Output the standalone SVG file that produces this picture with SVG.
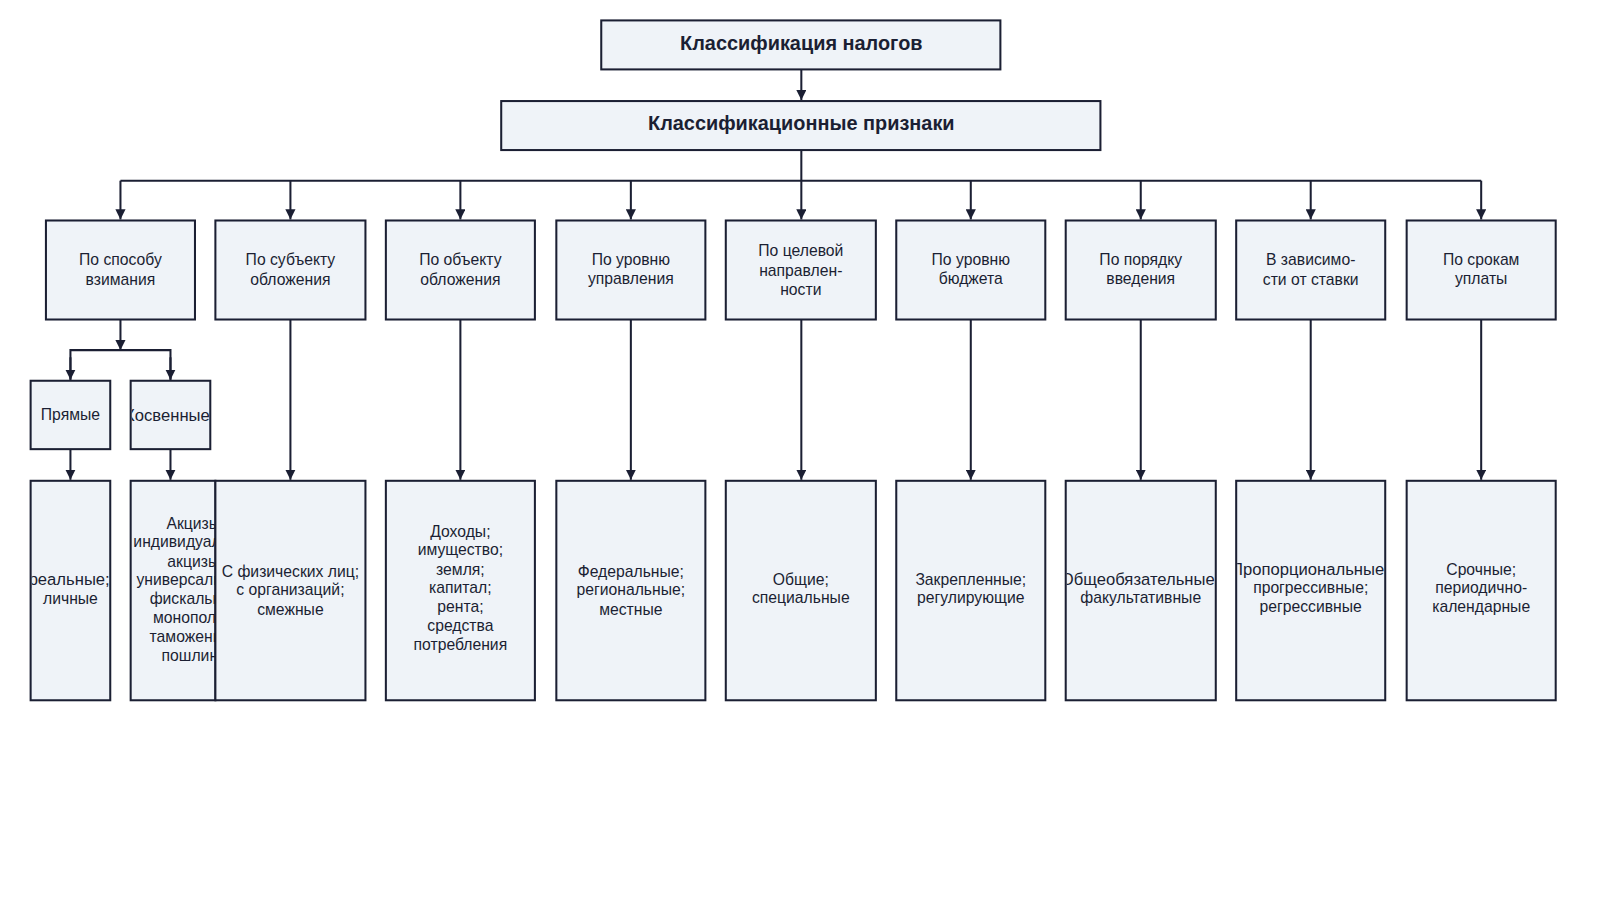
<svg xmlns="http://www.w3.org/2000/svg" width="1600" height="900" viewBox="0 0 1600 900">
<style>
.box{fill:#eff3f8;stroke:#1b1f33;stroke-width:2}
.t{font-family:"Liberation Sans",Arial,sans-serif;font-size:15.4px;fill:#1b1f33;text-anchor:middle}
.e{text-anchor:end;font-size:16.3px}
.b{font-family:"Liberation Sans",Arial,sans-serif;font-size:19.5px;font-weight:bold;fill:#1b1f33;text-anchor:middle}
.ln{fill:none;stroke:#1b1f33;stroke-width:2}
</style>
<defs>
<marker id="ah" viewBox="0 0 10 10" refX="10" refY="5" markerWidth="10" markerHeight="10" markerUnits="userSpaceOnUse" orient="auto">
<path d="M0,0 L10,5 L0,10 z" fill="#1b1f33"/>
</marker>
<clipPath id="cPr"><rect x="31" y="472" width="76" height="213"/></clipPath>
<clipPath id="cKs"><rect x="129" y="374" width="76" height="65"/></clipPath>
<clipPath id="cKb"><rect x="129" y="472" width="82" height="213"/></clipPath>
<clipPath id="cOb"><rect x="1045" y="472" width="145" height="213"/></clipPath>
<clipPath id="cPp"><rect x="1212" y="472" width="144" height="213"/></clipPath>
</defs>
<rect width="1600" height="900" fill="#ffffff"/>
<g transform="scale(1.0208)">

<g id="connectors">
<path class="ln" d="M785,68 V98" marker-end="url(#ah)"/>
<path class="ln" d="M785,147 V177"/>
<path class="ln" d="M118,177 H1451"/>
<path class="ln" d="M118,177 V215" marker-end="url(#ah)"/>
<path class="ln" d="M284.5,177 V215" marker-end="url(#ah)"/>
<path class="ln" d="M451,177 V215" marker-end="url(#ah)"/>
<path class="ln" d="M618,177 V215" marker-end="url(#ah)"/>
<path class="ln" d="M785,177 V215" marker-end="url(#ah)"/>
<path class="ln" d="M951,177 V215" marker-end="url(#ah)"/>
<path class="ln" d="M1117.5,177 V215" marker-end="url(#ah)"/>
<path class="ln" d="M1284,177 V215" marker-end="url(#ah)"/>
<path class="ln" d="M1451,177 V215" marker-end="url(#ah)"/>
<path class="ln" d="M118,313 V343" marker-end="url(#ah)"/>
<path class="ln" d="M69,372 V343 H167 V372"/>
<path class="ln" d="M69,350 V372" marker-end="url(#ah)"/>
<path class="ln" d="M167,350 V372" marker-end="url(#ah)"/>
<path class="ln" d="M69,440 V470" marker-end="url(#ah)"/>
<path class="ln" d="M167,440 V470" marker-end="url(#ah)"/>
<path class="ln" d="M284.5,313 V470" marker-end="url(#ah)"/>
<path class="ln" d="M451,313 V470" marker-end="url(#ah)"/>
<path class="ln" d="M618,313 V470" marker-end="url(#ah)"/>
<path class="ln" d="M785,313 V470" marker-end="url(#ah)"/>
<path class="ln" d="M951,313 V470" marker-end="url(#ah)"/>
<path class="ln" d="M1117.5,313 V470" marker-end="url(#ah)"/>
<path class="ln" d="M1284,313 V470" marker-end="url(#ah)"/>
<path class="ln" d="M1451,313 V470" marker-end="url(#ah)"/>
</g>

<g id="n-title">
<rect class="box" x="589" y="20" width="391" height="48"/>
<text class="b" x="785" y="49">Классификация налогов</text>
</g>
<g id="n-priznaki">
<rect class="box" x="491" y="99" width="587" height="48"/>
<text class="b" x="785" y="127">Классификационные признаки</text>
</g>

<g id="n-sposob">
<rect class="box" x="45" y="216" width="146" height="97"/>
<text class="t" x="118" y="260">По способу</text>
<text class="t" x="118" y="279">взимания</text>
</g>
<g id="n-subjekt">
<rect class="box" x="211" y="216" width="147" height="97"/>
<text class="t" x="284.5" y="260">По субъекту</text>
<text class="t" x="284.5" y="279">обложения</text>
</g>
<g id="n-objekt">
<rect class="box" x="378" y="216" width="146" height="97"/>
<text class="t" x="451" y="260">По объекту</text>
<text class="t" x="451" y="279">обложения</text>
</g>
<g id="n-upravl">
<rect class="box" x="545" y="216" width="146" height="97"/>
<text class="t" x="618" y="260">По уровню</text>
<text class="t" x="618" y="278">управления</text>
</g>
<g id="n-cel">
<rect class="box" x="711" y="216" width="147" height="97"/>
<text class="t" x="784.5" y="251">По целевой</text>
<text class="t" x="784.5" y="270">направлен-</text>
<text class="t" x="784.5" y="289">ности</text>
</g>
<g id="n-budzhet">
<rect class="box" x="878" y="216" width="146" height="97"/>
<text class="t" x="951" y="260">По уровню</text>
<text class="t" x="951" y="278">бюджета</text>
</g>
<g id="n-poryadok">
<rect class="box" x="1044" y="216" width="147" height="97"/>
<text class="t" x="1117.5" y="260">По порядку</text>
<text class="t" x="1117.5" y="278">введения</text>
</g>
<g id="n-stavka">
<rect class="box" x="1211" y="216" width="146" height="97"/>
<text class="t" x="1284" y="260">В зависимо-</text>
<text class="t" x="1284" y="279">сти от ставки</text>
</g>
<g id="n-sroki">
<rect class="box" x="1378" y="216" width="146" height="97"/>
<text class="t" x="1451" y="260">По срокам</text>
<text class="t" x="1451" y="278">уплаты</text>
</g>

<g id="n-pryamye">
<rect class="box" x="30" y="373" width="78" height="67"/>
<text class="t" x="69" y="411">Прямые</text>
</g>
<g id="n-kosvennye">
<rect class="box" x="128" y="373" width="78" height="67"/>
<text class="t e" x="205.5" y="412" clip-path="url(#cKs)">Косвенные</text>
</g>

<g id="n-pryamye-vidy">
<rect class="box" x="30" y="471" width="78" height="215"/>
<g clip-path="url(#cPr)">
<text class="t e" x="107.5" y="573">реальные;</text>
<text class="t" x="69" y="592">личные</text>
</g>
</g>
<g id="n-kosvennye-vidy">
<rect class="box" x="128" y="471" width="83" height="215"/>
<g clip-path="url(#cKb)">
<text class="t" x="191.5" y="518">Акцизы;</text>
<text class="t" x="191.5" y="536">индивидуальные</text>
<text class="t" x="191.5" y="555">акцизы;</text>
<text class="t" x="191.5" y="573">универсальные;</text>
<text class="t" x="191.5" y="592">фискальные</text>
<text class="t" x="191.5" y="610">монополии;</text>
<text class="t" x="191.5" y="629">таможенные</text>
<text class="t" x="191.5" y="648">пошлины</text>
</g>
</g>
<g id="n-subjekt-vidy">
<rect class="box" x="211" y="471" width="147" height="215"/>
<text class="t" x="284.5" y="565">С физических лиц;</text>
<text class="t" x="284.5" y="583">с организаций;</text>
<text class="t" x="284.5" y="602">смежные</text>
</g>
<g id="n-objekt-vidy">
<rect class="box" x="378" y="471" width="146" height="215"/>
<text class="t" x="451" y="526">Доходы;</text>
<text class="t" x="451" y="544">имущество;</text>
<text class="t" x="451" y="563">земля;</text>
<text class="t" x="451" y="581">капитал;</text>
<text class="t" x="451" y="600">рента;</text>
<text class="t" x="451" y="618">средства</text>
<text class="t" x="451" y="637">потребления</text>
</g>
<g id="n-upravl-vidy">
<rect class="box" x="545" y="471" width="146" height="215"/>
<text class="t" x="618" y="565">Федеральные;</text>
<text class="t" x="618" y="583">региональные;</text>
<text class="t" x="618" y="602">местные</text>
</g>
<g id="n-cel-vidy">
<rect class="box" x="711" y="471" width="147" height="215"/>
<text class="t" x="784.5" y="573">Общие;</text>
<text class="t" x="784.5" y="591">специальные</text>
</g>
<g id="n-budzhet-vidy">
<rect class="box" x="878" y="471" width="146" height="215"/>
<text class="t" x="951" y="573">Закрепленные;</text>
<text class="t" x="951" y="591">регулирующие</text>
</g>
<g id="n-poryadok-vidy">
<rect class="box" x="1044" y="471" width="147" height="215"/>
<g clip-path="url(#cOb)">
<text class="t e" x="1190" y="573">Общеобязательные</text>
<text class="t" x="1117.5" y="591">факультативные</text>
</g>
</g>
<g id="n-stavka-vidy">
<rect class="box" x="1211" y="471" width="146" height="215"/>
<g clip-path="url(#cPp)">
<text class="t e" x="1356" y="563">Пропорциональные</text>
<text class="t" x="1284" y="581">прогрессивные;</text>
<text class="t" x="1284" y="600">регрессивные</text>
</g>
</g>
<g id="n-sroki-vidy">
<rect class="box" x="1378" y="471" width="146" height="215"/>
<text class="t" x="1451" y="563">Срочные;</text>
<text class="t" x="1451" y="581">периодично-</text>
<text class="t" x="1451" y="600">календарные</text>
</g>
</g>
</svg>
